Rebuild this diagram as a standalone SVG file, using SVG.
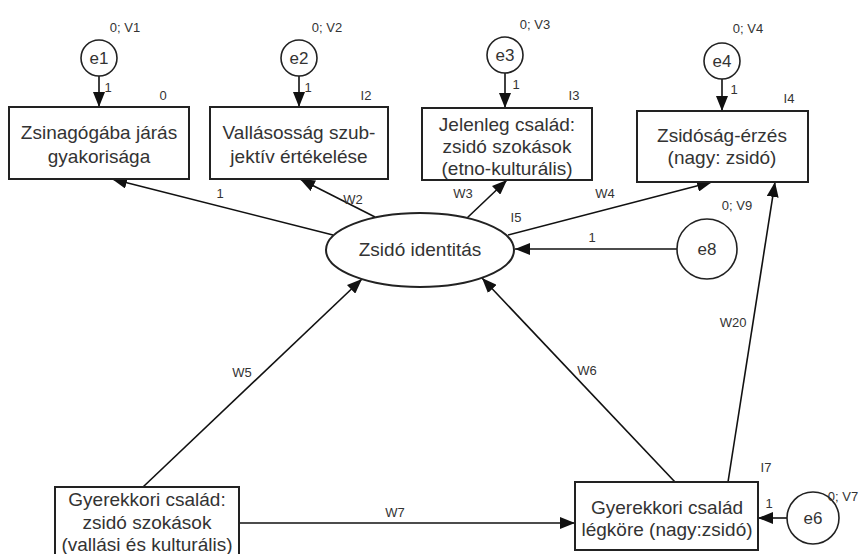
<svg xmlns="http://www.w3.org/2000/svg" width="859" height="554" viewBox="0 0 859 554">
<defs>
<marker id="ah" markerUnits="userSpaceOnUse" markerWidth="16" markerHeight="12" refX="15" refY="6" orient="auto">
<path d="M0,0 L15,6 L0,12 z" fill="#111"/>
</marker>
<style>
.box{fill:#fff;stroke:#222;stroke-width:2}
.circ{fill:#fff;stroke:#222;stroke-width:1.6}
.t{font-family:"Liberation Sans",Arial,sans-serif;font-size:19px;fill:#333;text-anchor:middle}
.e{font-size:17px}
.l{font-family:"Liberation Sans",Arial,sans-serif;font-size:13px;fill:#333;text-anchor:middle}
.c line{stroke:#111;stroke-width:1.6;marker-end:url(#ah)}
</style>
</defs>
<rect width="859" height="554" fill="#fff"/>
<g class="c" id="connectors">
<line x1="99" y1="76" x2="99" y2="107"/>
<line x1="299" y1="76" x2="299" y2="107"/>
<line x1="505" y1="73" x2="505" y2="108"/>
<line x1="722" y1="79" x2="722" y2="111"/>
<line x1="333" y1="235" x2="112" y2="179"/>
<line x1="375" y1="217" x2="300" y2="179"/>
<line x1="467" y1="218" x2="507" y2="180"/>
<line x1="508" y1="235" x2="712" y2="182"/>
<line x1="677" y1="249" x2="515" y2="249"/>
<line x1="143" y1="487" x2="362" y2="279"/>
<line x1="675" y1="482" x2="482" y2="278"/>
<line x1="728" y1="482" x2="775" y2="182"/>
<line x1="239" y1="523" x2="575" y2="523"/>
<line x1="787" y1="518" x2="758" y2="518"/>
</g>
<g id="labels">
<text class="l" x="108" y="92">1</text>
<text class="l" x="308" y="92">1</text>
<text class="l" x="516" y="89">1</text>
<text class="l" x="734" y="94">1</text>
<text class="l" x="220" y="198">1</text>
<text class="l" x="353" y="204">W2</text>
<text class="l" x="463" y="198">W3</text>
<text class="l" x="605" y="198">W4</text>
<text class="l" x="592" y="242">1</text>
<text class="l" x="242" y="377">W5</text>
<text class="l" x="587" y="375">W6</text>
<text class="l" x="733" y="327">W20</text>
<text class="l" x="395" y="517">W7</text>
<text class="l" x="769" y="508">1</text>
</g>
<g id="e1"><circle class="circ" cx="99" cy="58" r="18"/><text class="t e" x="99" y="64">e1</text><text class="l" x="125" y="32">0; V1</text></g>
<g id="e2"><circle class="circ" cx="299" cy="58" r="18"/><text class="t e" x="299" y="64">e2</text><text class="l" x="327" y="32">0; V2</text></g>
<g id="e3"><circle class="circ" cx="505" cy="55" r="18"/><text class="t e" x="505" y="61">e3</text><text class="l" x="535" y="29">0; V3</text></g>
<g id="e4"><circle class="circ" cx="722" cy="61" r="18"/><text class="t e" x="722" y="67">e4</text><text class="l" x="748" y="33">0; V4</text></g>
<g id="e8"><circle class="circ" cx="707" cy="249" r="30"/><text class="t e" x="707" y="255">e8</text><text class="l" x="737" y="210">0; V9</text></g>
<g id="e6"><circle class="circ" cx="813" cy="518" r="26"/><text class="t e" x="813" y="524">e6</text><text class="l" x="843" y="501">0; V7</text></g>
<g id="box1"><rect class="box" x="9" y="107" width="180" height="72"/><text class="t" x="99" y="139">Zsinagógába járás</text><text class="t" x="99" y="163">gyakorisága</text><text class="l" x="163" y="100">0</text></g>
<g id="box2"><rect class="box" x="210" y="107" width="178" height="72"/><text class="t" x="299" y="139">Vallásosság szub-</text><text class="t" x="299" y="163">jektív értékelése</text><text class="l" x="366" y="100">I2</text></g>
<g id="box3"><rect class="box" x="422" y="108" width="170" height="72"/><text class="t" x="507" y="131">Jelenleg család:</text><text class="t" x="507" y="153">zsidó szokások</text><text class="t" x="507" y="175">(etno-kulturális)</text><text class="l" x="574" y="100">I3</text></g>
<g id="box4"><rect class="box" x="637" y="111" width="171" height="71"/><text class="t" x="722" y="142">Zsidóság-érzés</text><text class="t" x="722" y="164">(nagy: zsidó)</text><text class="l" x="789" y="103">I4</text></g>
<g id="identity"><ellipse class="box" cx="420" cy="250" rx="94" ry="37"/><text class="t" x="420" y="256">Zsidó identitás</text><text class="l" x="516" y="222">I5</text></g>
<g id="box5"><rect class="box" x="55" y="487" width="184" height="72"/><text class="t" x="147" y="506">Gyerekkori család:</text><text class="t" x="147" y="529">zsidó szokások</text><text class="t" x="147" y="551">(vallási és kulturális)</text></g>
<g id="box6"><rect class="box" x="575" y="482" width="183" height="68"/><text class="t" x="667" y="514">Gyerekkori család</text><text class="t" x="667" y="536">légköre (nagy:zsidó)</text><text class="l" x="766" y="472">I7</text></g>
</svg>
